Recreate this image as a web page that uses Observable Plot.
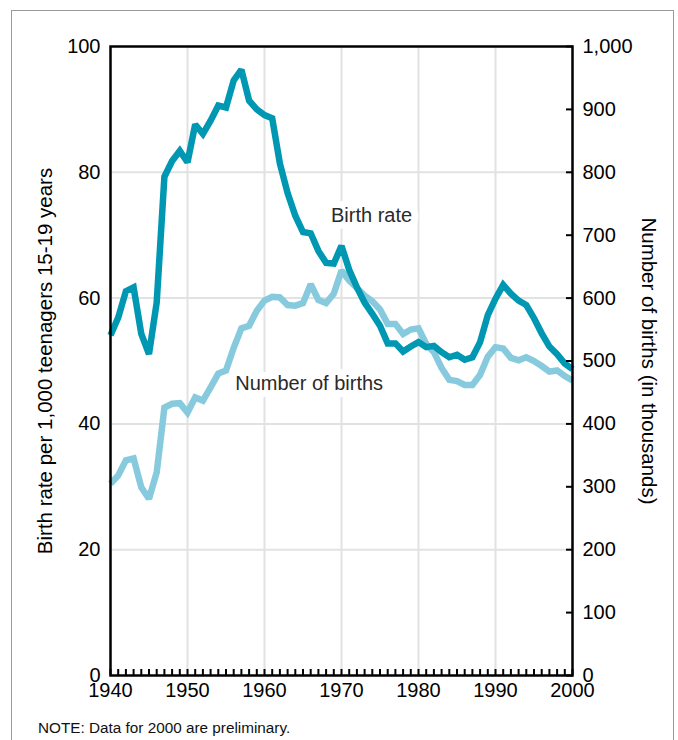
<!DOCTYPE html>
<html>
<head>
<meta charset="utf-8">
<script src="https://cdn.jsdelivr.net/npm/d3@7"></script>
<script src="https://cdn.jsdelivr.net/npm/@observablehq/plot@0.6"></script>
<style>
  html, body { margin: 0; padding: 0; background: #fff; }
  #wrap { position: relative; width: 678px; height: 740px; overflow: hidden; font-family: "Liberation Sans", Arial, Helvetica, sans-serif; }
  #box { position: absolute; left: 11px; top: 10px; width: 663px; height: 760px; border: 1px solid #9a9a9a; box-sizing: border-box; }
  #chart { position: absolute; left: 0; top: 0; }
  #note { position: absolute; left: 38px; top: 720px; font-size: 15.3px; line-height: 15px; color: #111; white-space: nowrap; }
</style>
</head>
<body>
<div id="wrap">
  <div id="box"></div>
  <div id="chart"></div>
  <div id="note">NOTE: Data for 2000 are preliminary.</div>
</div>
<script>
const years = [
  1940,1941,1942,1943,1944,1945,1946,1947,1948,1949,
  1950,1951,1952,1953,1954,1955,1956,1957,1958,1959,
  1960,1961,1962,1963,1964,1965,1966,1967,1968,1969,
  1970,1971,1972,1973,1974,1975,1976,1977,1978,1979,
  1980,1981,1982,1983,1984,1985,1986,1987,1988,1989,
  1990,1991,1992,1993,1994,1995,1996,1997,1998,1999,
  2000
];
// Birth rate per 1,000 teenagers 15-19 years
const birthRate = [
  54.1,56.9,61.1,61.7,54.3,51.1,59.3,79.3,81.8,83.4,
  81.6,87.6,86.1,88.2,90.6,90.3,94.6,96.3,91.4,90.0,
  89.1,88.6,81.4,76.7,73.1,70.5,70.3,67.5,65.6,65.5,
  68.3,64.5,61.7,59.3,57.5,55.6,52.8,52.8,51.5,52.3,
  53.0,52.2,52.4,51.4,50.6,51.0,50.2,50.6,53.0,57.3,
  59.9,62.1,60.7,59.6,58.9,56.8,54.4,52.3,51.1,49.6,
  48.7
];
// Number of births (in thousands)
const births = [
  305,318,342,345,299,281,323,426,432,433,
  418,442,437,458,480,485,521,552,556,580,
  596,602,601,589,588,592,622,597,592,607,
  644,628,616,604,595,582,559,559,543,550,
  552,527,514,489,470,468,462,462,478,507,
  522,520,505,501,506,500,492,483,485,476,
  469
];
const leftTicks = [0,20,40,60,80,100];
const rightTicks = [0,100,200,300,400,500,600,700,800,900,1000];
const decadeTicks = [1940,1950,1960,1970,1980,1990,2000];
const gridYears = [1950,1960,1970,1980,1990];
const gridRates = [20,40,60,80];
const labels = [
  {year: 1973.9, value: 73.1, text: "Birth rate"},
  {year: 1965.8, value: 46.4, text: "Number of births"}
];
const leftTitle = "Birth rate per 1,000 teenagers 15-19 years";
const rightTitle = "Number of births (in thousands)";

const rateData = years.map((y, i) => ({year: y, v: birthRate[i]}));
const birthData = years.map((y, i) => ({year: y, v: births[i] / 10}));

const darkTeal = "#0097b3";
const lightBlue = "#88cadd";
const gridColor = "#e2e2e2";

const chart = Plot.plot({
  width: 678,
  height: 705,
  marginLeft: 110,
  marginRight: 106,
  marginTop: 46,
  marginBottom: 30,
  style: {fontFamily: "Liberation Sans, Arial, Helvetica, sans-serif", fontSize: "20px", color: "#000", background: "transparent", overflow: "visible"},
  x: {domain: [1940, 2000]},
  y: {domain: [0, 100]},
  marks: [
    Plot.ruleX(gridYears, {x: d => d, stroke: gridColor, strokeWidth: 2}),
    Plot.ruleY(gridRates, {y: d => d, stroke: gridColor, strokeWidth: 2}),
    Plot.text(labels, {x: "year", y: "value", text: "text", fill: "#2a2a2a", stroke: "white", strokeWidth: 14, paintOrder: "stroke", fontSize: 20}),
    Plot.line(birthData, {x: "year", y: "v", stroke: lightBlue, strokeWidth: 6.5, strokeLinecap: "butt", strokeLinejoin: "miter", strokeMiterlimit: 2}),
    Plot.line(rateData, {x: "year", y: "v", stroke: darkTeal, strokeWidth: 6.5, strokeLinecap: "butt", strokeLinejoin: "miter", strokeMiterlimit: 2}),
    // left axis labels
    Plot.axisY(leftTicks, {anchor: "left", tickSize: 0, tickPadding: 10, label: null}),
    // right axis ticks (inward)
    Plot.axisY(rightTicks.map(d => d / 10), {anchor: "right", tickSize: 7, dx: -7, strokeWidth: 2, fill: "none", label: null}),
    // right axis labels
    Plot.axisY(rightTicks.map(d => d / 10), {anchor: "right", tickSize: 0, tickPadding: 10, tickFormat: d => d3.format(",")(Math.round(d * 10)), label: null}),
    // bottom yearly ticks (inward)
    Plot.axisX(years, {anchor: "bottom", tickSize: 6, dy: -6, strokeWidth: 2, fill: "none", label: null}),
    // bottom decade labels
    Plot.axisX(decadeTicks, {anchor: "bottom", tickSize: 0, tickPadding: 7, tickFormat: d => String(d), label: null}),
    Plot.frame({stroke: "black", strokeWidth: 2.5}),
    Plot.text([leftTitle], {frameAnchor: "left", textAnchor: "middle", rotate: -90, dx: -65, fontSize: 20.5, fill: "#000"}),
    Plot.text([rightTitle], {frameAnchor: "right", textAnchor: "middle", rotate: 90, dx: 76, fontSize: 20.5, fill: "#000"})
  ]
});
document.getElementById("chart").appendChild(chart);
</script>
</body>
</html>
